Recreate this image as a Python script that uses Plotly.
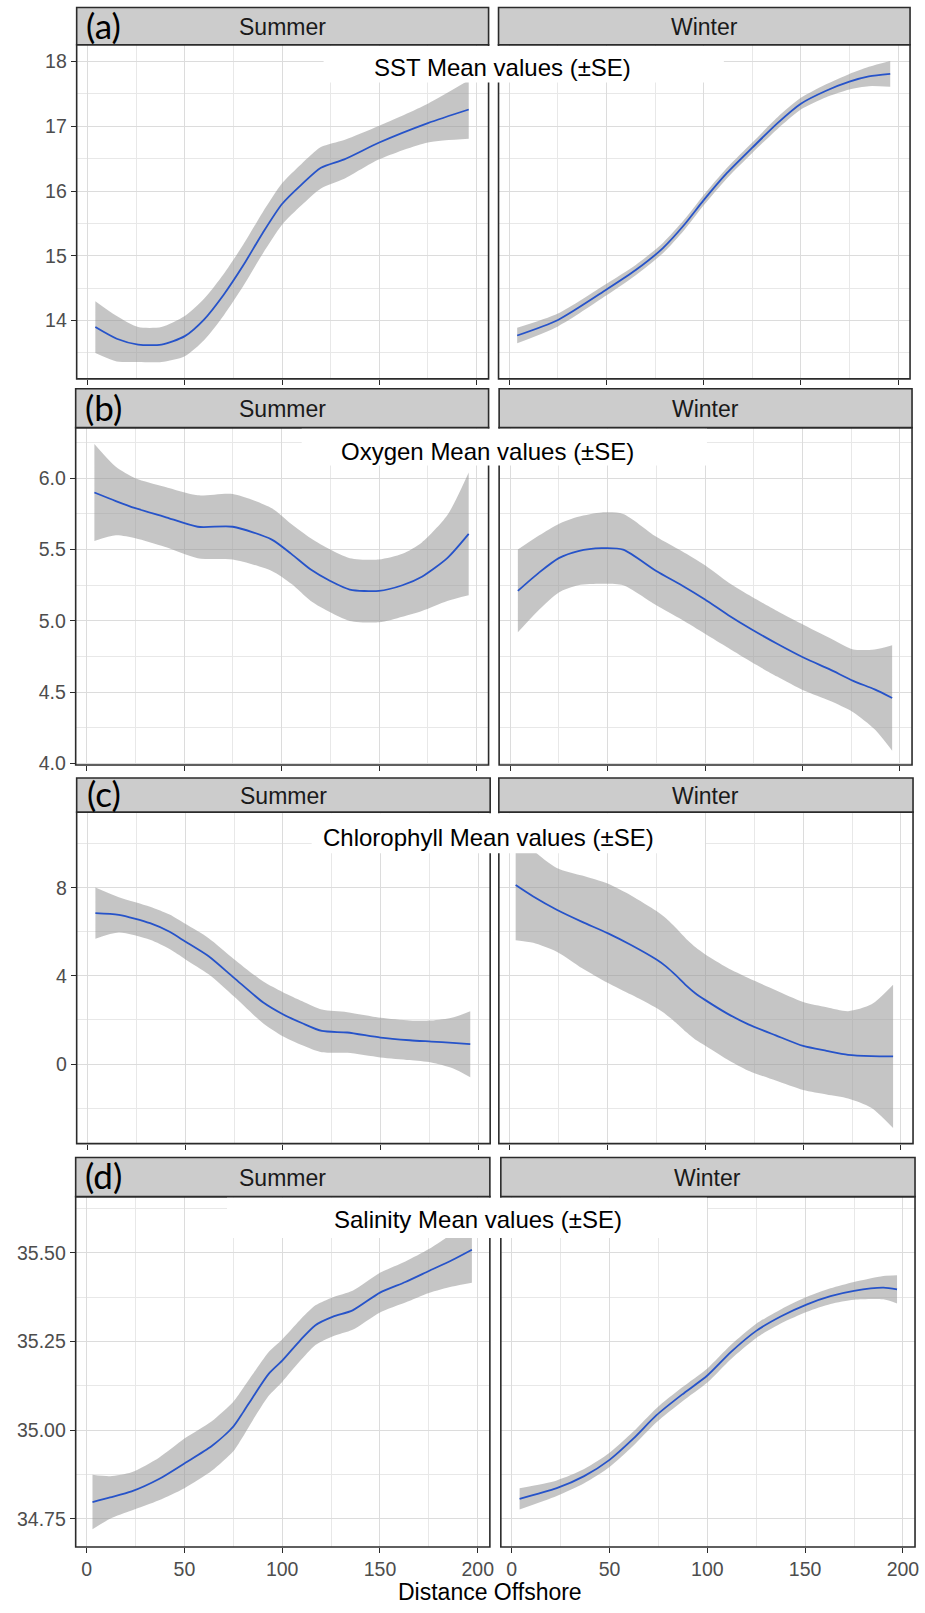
import plotly.graph_objects as go

W, H = 925, 1613

# ---------------- data: smoothed means and standard errors by distance offshore ----------------
seasons = ["Summer", "Winter"]
panel_tags = ["(a)", "(b)", "(c)", "(d)"]
variable_titles = [
    "SST Mean values (±SE)",
    "Oxygen Mean values (±SE)",
    "Chlorophyll Mean values (±SE)",
    "Salinity Mean values (±SE)",
]

sst_summer_x = [4, 15, 26, 38, 50, 60, 70, 80, 90, 100, 110, 120, 132, 150, 175, 196]
sst_summer_y = [13.90, 13.72, 13.63, 13.63, 13.76, 14.02, 14.40, 14.85, 15.35, 15.80, 16.10, 16.36, 16.49, 16.75, 17.05, 17.26]
sst_summer_se = [0.40, 0.35, 0.27, 0.27, 0.31, 0.32, 0.32, 0.32, 0.32, 0.32, 0.32, 0.32, 0.30, 0.26, 0.30, 0.45]

sst_winter_x = [4, 25, 50, 65, 79, 90, 100, 112, 125, 138, 150, 163, 175, 185, 196]
sst_winter_y = [13.77, 14.01, 14.48, 14.78, 15.12, 15.48, 15.86, 16.28, 16.67, 17.05, 17.35, 17.55, 17.69, 17.77, 17.81]
sst_winter_se = [0.12, 0.10, 0.09, 0.08, 0.08, 0.08, 0.08, 0.08, 0.08, 0.09, 0.09, 0.10, 0.12, 0.15, 0.20]

oxy_summer_x = [4, 15, 25, 40, 57, 75, 95, 105, 115, 125, 135, 150, 162, 172, 185, 196]
oxy_summer_y = [5.90, 5.84, 5.79, 5.73, 5.66, 5.66, 5.57, 5.47, 5.36, 5.28, 5.22, 5.21, 5.25, 5.31, 5.44, 5.61]
oxy_summer_se = [0.34, 0.24, 0.21, 0.21, 0.22, 0.23, 0.22, 0.21, 0.22, 0.22, 0.22, 0.22, 0.22, 0.24, 0.30, 0.43]

oxy_winter_x = [4, 15, 25, 35, 47, 58, 75, 88, 100, 112, 124, 137, 151, 164, 176, 187, 196]
oxy_winter_y = [5.21, 5.34, 5.44, 5.49, 5.51, 5.50, 5.35, 5.25, 5.15, 5.04, 4.94, 4.84, 4.74, 4.66, 4.58, 4.52, 4.46]
oxy_winter_se = [0.29, 0.26, 0.24, 0.24, 0.25, 0.25, 0.24, 0.24, 0.24, 0.23, 0.23, 0.23, 0.23, 0.22, 0.22, 0.28, 0.37]

chl_summer_x = [4, 16, 32, 42, 50, 62, 75, 90, 100, 110, 120, 133, 150, 165, 176, 187, 196]
chl_summer_y = [6.85, 6.77, 6.39, 6.00, 5.56, 4.89, 3.91, 2.79, 2.26, 1.85, 1.50, 1.43, 1.20, 1.08, 1.02, 0.96, 0.90]
chl_summer_se = [1.16, 0.80, 0.75, 0.78, 0.80, 0.82, 0.85, 0.95, 1.00, 1.00, 0.97, 0.92, 0.90, 0.90, 0.95, 1.15, 1.50]

chl_winter_x = [3, 12, 24, 37, 50, 62, 75, 80, 85, 90, 95, 100, 111, 122, 136, 150, 162, 173, 185, 196]
chl_winter_y = [8.12, 7.60, 7.00, 6.45, 5.94, 5.40, 4.74, 4.42, 4.02, 3.58, 3.20, 2.90, 2.30, 1.80, 1.30, 0.82, 0.60, 0.42, 0.36, 0.35]
chl_winter_se = [2.50, 2.10, 1.90, 2.10, 2.25, 2.25, 2.20, 2.18, 2.15, 2.12, 2.10, 2.07, 2.08, 2.10, 2.05, 2.00, 1.98, 1.98, 2.35, 3.25]

sal_summer_x = [3, 12, 23, 37, 50, 64, 75, 80, 85, 93, 100, 109, 117, 126, 136, 150, 163, 175, 187, 197]
sal_summer_y = [34.797, 34.810, 34.827, 34.862, 34.906, 34.955, 35.010, 35.050, 35.093, 35.158, 35.196, 35.252, 35.296, 35.320, 35.338, 35.388, 35.418, 35.449, 35.480, 35.509]
sal_summer_se = [0.077, 0.060, 0.054, 0.060, 0.070, 0.070, 0.070, 0.068, 0.065, 0.062, 0.060, 0.058, 0.056, 0.055, 0.055, 0.056, 0.058, 0.062, 0.075, 0.093]

sal_winter_x = [4, 23, 37, 50, 62, 74, 87, 100, 112, 125, 138, 151, 163, 175, 190, 197]
sal_winter_y = [34.806, 34.836, 34.870, 34.916, 34.975, 35.042, 35.100, 35.154, 35.220, 35.280, 35.322, 35.355, 35.378, 35.393, 35.402, 35.397]
sal_winter_se = [0.030, 0.022, 0.020, 0.020, 0.020, 0.020, 0.020, 0.020, 0.020, 0.020, 0.020, 0.021, 0.022, 0.025, 0.033, 0.040]

x_tickvals = [0, 50, 100, 150, 200]
x_ticktext = ["0", "50", "100", "150", "200"]

y_tickvals = [
    [14, 15, 16, 17, 18],
    [4.0, 4.5, 5.0, 5.5, 6.0],
    [0, 4, 8],
    [34.75, 35.00, 35.25, 35.50],
]
y_ticktext = [
    ["14", "15", "16", "17", "18"],
    ["4.0", "4.5", "5.0", "5.5", "6.0"],
    ["0", "4", "8"],
    ["34.75", "35.00", "35.25", "35.50"],
]

series = [
    [(sst_summer_x, sst_summer_y, sst_summer_se), (sst_winter_x, sst_winter_y, sst_winter_se)],
    [(oxy_summer_x, oxy_summer_y, oxy_summer_se), (oxy_winter_x, oxy_winter_y, oxy_winter_se)],
    [(chl_summer_x, chl_summer_y, chl_summer_se), (chl_winter_x, chl_winter_y, chl_winter_se)],
    [(sal_summer_x, sal_summer_y, sal_summer_se), (sal_winter_x, sal_winter_y, sal_winter_se)],
]

# ---------------- layout geometry (pixels) ----------------
y_ranges = [[13.10, 18.26], [3.99, 6.355], [-3.61, 11.43], [34.670, 35.659]]
y_minor = [(13.5, 1.0), (4.25, 0.5), (-2, 4), (34.875, 0.25)]
x_range = [-5.6, 206.2]

# (strip_top, strip_bottom, panel_bottom) per row
rows_px = [(7.5, 45, 381), (391, 430, 769.3), (782.3, 816.7, 1150), (1164, 1203.3, 1555.7)]
# (summer_left, summer_right, winter_left, winter_right) per row
cols_px = [(77, 490.7, 500.7, 914), (76, 490.7, 501.3, 916), (77, 492.3, 501, 917), (76, 492, 503, 919)]
# title box (left, right, bottom) and title centre (x, y)
title_box = [(325, 727, 83), (303, 710, 468), (313, 708, 858), (228, 710, 1245)]
title_pos = [(505, 68), (490, 454), (491, 842), (480, 1226)]
tag_pos = [(104, 25), (104, 409), (104, 797), (104, 1182)]


def fx(p):
    return p / W


def fy(p):
    return 1 - p / H


fig = go.Figure()
shapes = []
annotations = []

GRID_MAJOR = "#dcdcdc"
GRID_MINOR = "#e8e8e8"
BORDER = "#2b2b2b"
TICK_FONT = dict(family="Liberation Sans, Arial, sans-serif", size=19.5, color="#4d4d4d")
SMOOTH = 0.7

for r in range(4):
    st, sb, pb = rows_px[r]
    cp = cols_px[r]
    for c in range(2):
        idx = r * 2 + c + 1
        xa = "x" if idx == 1 else f"x{idx}"
        ya = "y" if idx == 1 else f"y{idx}"
        left, right = cp[2 * c], cp[2 * c + 1]

        xs, ys, se = series[r][c]
        upper = [v + s for v, s in zip(ys, se)]
        lower = [v - s for v, s in zip(ys, se)]
        # SE ribbon: lower edge, then upper edge filled down to it
        fig.add_trace(go.Scatter(
            x=xs, y=lower, mode="lines",
            line=dict(width=0, shape="spline", smoothing=SMOOTH),
            hoverinfo="skip", showlegend=False, xaxis=xa, yaxis=ya,
        ))
        fig.add_trace(go.Scatter(
            x=xs, y=upper, mode="lines", fill="tonexty",
            fillcolor="rgba(150,150,150,0.55)",
            line=dict(width=0, shape="spline", smoothing=SMOOTH),
            hoverinfo="skip", showlegend=False, xaxis=xa, yaxis=ya,
        ))
        fig.add_trace(go.Scatter(
            x=xs, y=ys, mode="lines",
            line=dict(color="#2653c9", width=1.8, shape="spline", smoothing=SMOOTH),
            showlegend=False, xaxis=xa, yaxis=ya,
        ))

        xkey = "xaxis" if idx == 1 else f"xaxis{idx}"
        ykey = "yaxis" if idx == 1 else f"yaxis{idx}"
        fig.update_layout({
            xkey: dict(
                domain=[fx(left), fx(right)], anchor=ya, range=x_range,
                tickmode="array", tickvals=x_tickvals, ticktext=x_ticktext,
                showticklabels=(r == 3), ticks="outside", ticklen=5,
                tickcolor=BORDER, tickwidth=1.2, tickfont=TICK_FONT,
                showgrid=True, gridcolor=GRID_MAJOR, gridwidth=1.2,
                minor=dict(tick0=25, dtick=50, showgrid=True,
                           gridcolor=GRID_MINOR, gridwidth=1, ticks=""),
                zeroline=False, showline=False, fixedrange=True,
            ),
            ykey: dict(
                domain=[fy(pb), fy(sb)], anchor=xa, range=y_ranges[r],
                tickmode="array", tickvals=y_tickvals[r], ticktext=y_ticktext[r],
                showticklabels=(c == 0), ticks="outside" if c == 0 else "",
                ticklen=5, tickcolor=BORDER, tickwidth=1.2, tickfont=TICK_FONT,
                showgrid=True, gridcolor=GRID_MAJOR, gridwidth=1.2,
                minor=dict(tick0=y_minor[r][0], dtick=y_minor[r][1], showgrid=True,
                           gridcolor=GRID_MINOR, gridwidth=1, ticks=""),
                zeroline=False, showline=False, fixedrange=True,
            ),
        })

        # panel border
        shapes.append(dict(type="rect", xref="paper", yref="paper",
                           x0=fx(left), x1=fx(right), y0=fy(pb), y1=fy(sb),
                           line=dict(color=BORDER, width=1.6), fillcolor="rgba(0,0,0,0)",
                           layer="above"))
        # facet strip
        shapes.append(dict(type="rect", xref="paper", yref="paper",
                           x0=fx(left), x1=fx(right), y0=fy(sb), y1=fy(st),
                           line=dict(color=BORDER, width=1.6), fillcolor="#cccccc",
                           layer="above"))
        annotations.append(dict(
            text=seasons[c], xref="paper", yref="paper",
            x=fx((left + right) / 2), y=fy((st + sb) / 2 + 1),
            xanchor="center", yanchor="middle", showarrow=False,
            font=dict(family="Liberation Sans, Arial, sans-serif", size=23, color="#1a1a1a"),
        ))

    # white title box laid over the top of the row
    bl, br, bb = title_box[r]
    shapes.append(dict(type="rect", xref="paper", yref="paper",
                       x0=fx(bl), x1=fx(br), y0=fy(bb), y1=fy(sb + 1.2),
                       line=dict(width=0), fillcolor="white", layer="above"))
    tx, ty = title_pos[r]
    annotations.append(dict(
        text=variable_titles[r], xref="paper", yref="paper",
        x=fx(tx), y=fy(ty), xanchor="center", yanchor="middle", showarrow=False,
        font=dict(family="Liberation Sans, Arial, sans-serif", size=24, color="black"),
    ))
    gx, gy = tag_pos[r]
    annotations.append(dict(
        text=panel_tags[r], xref="paper", yref="paper",
        x=fx(gx), y=fy(gy), xanchor="center", yanchor="middle", showarrow=False,
        font=dict(family="Lato, Open Sans, sans-serif", size=35, color="black"),
    ))

annotations.append(dict(
    text="Distance Offshore", xref="paper", yref="paper",
    x=fx(492), y=fy(1601), xanchor="center", yanchor="middle", showarrow=False,
    font=dict(family="Liberation Sans, Arial, sans-serif", size=23, color="black"),
))

fig.update_layout(
    width=W, height=H, margin=dict(l=0, r=0, t=0, b=0),
    paper_bgcolor="white", plot_bgcolor="white",
    shapes=shapes, annotations=annotations, showlegend=False,
)

fig.write_html("out.html", config={"displayModeBar": False})
